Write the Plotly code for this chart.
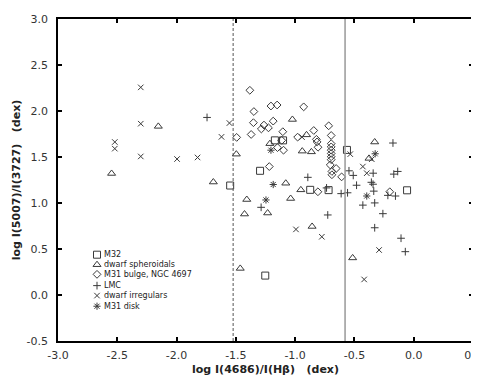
import plotly.graph_objects as go

# ---- data ----
m32_x = [-1.548, -1.171, -1.102, -1.296, -0.873, -0.718, -0.563, -0.056, -1.252]
m32_y = [1.190, 1.681, 1.681, 1.350, 1.143, 1.140, 1.577, 1.138, 0.211]

dsph_x = [-2.154, -2.548, -1.690, -1.496, -1.023, -0.904, -1.213, -0.940, -0.863, -1.079,
          -0.952, -1.408, -1.038, -1.427, -1.232, -0.857, -1.463, -0.515, -0.329, -0.377]
dsph_y = [1.833, 1.321, 1.228, 1.531, 1.908, 1.741, 1.645, 1.564, 1.556, 1.215,
          1.143, 1.038, 1.049, 0.880, 0.891, 0.745, 0.289, 0.403, 1.663, 1.485]

bulge_x = [-1.382, -1.204, -1.152, -0.928, -1.348, -1.352, -1.185, -1.263, -1.285, -1.225,
           -1.104, -1.371, -1.493, -0.979, -0.843, -0.717, -0.696, -1.113, -1.149, -1.098,
           -0.821, -0.815, -0.807, -0.696, -0.696, -0.696, -0.696, -0.696, -0.696, -0.704,
           -0.654, -0.690, -0.690, -0.608, -1.218, -0.808, -0.202]
bulge_y = [2.225, 2.054, 2.065, 2.045, 1.994, 1.873, 1.890, 1.847, 1.805, 1.817,
           1.775, 1.745, 1.713, 1.716, 1.788, 1.839, 1.734, 1.681, 1.602, 1.574,
           1.692, 1.664, 1.606, 1.645, 1.610, 1.574, 1.538, 1.503, 1.471, 1.414,
           1.375, 1.343, 1.307, 1.284, 1.396, 1.122, 1.122]

lmc_x = [-1.743, -1.287, -0.893, -0.735, -0.612, -0.558, -0.546, -0.510, -0.482, -0.342,
         -0.175, -0.168, -0.135, -0.357, -0.343, -0.337, -0.218, -0.154, -0.329, -0.429,
         -0.260, -0.725, -0.329, -0.107, -0.071]
lmc_y = [1.930, 0.953, 1.279, 1.164, 1.102, 1.111, 1.350, 1.300, 1.193, 1.324,
         1.652, 1.314, 1.343, 1.225, 1.204, 1.129, 1.083, 1.076, 1.001, 0.977,
         0.884, 0.870, 0.731, 0.617, 0.471]

dirr_x = [-2.302, -2.302, -2.521, -2.521, -2.302, -1.996, -1.823, -1.554, -1.621, -0.942,
          -0.535, -0.429, -0.396, -0.354, -0.993, -0.775, -0.292, -0.418]
dirr_y = [2.257, 1.862, 1.663, 1.591, 1.506, 1.478, 1.495, 1.869, 1.719, 1.716,
          1.531, 1.396, 1.324, 1.476, 0.713, 0.633, 0.489, 0.169]

disk_x = [-1.185, -1.246, -1.204, -0.325, -0.396]
disk_y = [1.201, 1.033, 1.574, 1.535, 1.076]

vline_dashed = -1.523
vline_solid = -0.579

x_ticks = [-3.0, -2.5, -2.0, -1.5, -1.0, -0.5, 0.0, 0.5]
y_ticks = [-0.5, 0.0, 0.5, 1.0, 1.5, 2.0, 2.5, 3.0]

series = [
    ("M32", m32_x, m32_y, "square-open", 7),
    ("dwarf spheroidals", dsph_x, dsph_y, "triangle-up-open", 7),
    ("M31 bulge, NGC 4697", bulge_x, bulge_y, "diamond-open", 6),
    ("LMC", lmc_x, lmc_y, "cross-thin-open", 5.5),
    ("dwarf irregulars", dirr_x, dirr_y, "x-thin-open", 5.5),
    ("M31 disk", disk_x, disk_y, "asterisk-open", 6),
]

MC = "#3a3a3a"
fig = go.Figure()
for name, xs, ys, sym, sz in series:
    fig.add_trace(go.Scatter(
        x=xs, y=ys, mode="markers", name=name, showlegend=False,
        marker=dict(symbol=sym, size=sz, color=MC, line=dict(color=MC, width=1)),
    ))

# manual compact legend (glyphs on an overlay axis, labels as annotations)
leg_rows = [0.268, 0.237, 0.207, 0.172, 0.141, 0.108]
for (name, xs, ys, sym, sz), ry in zip(series, leg_rows):
    fig.add_trace(go.Scatter(
        x=[0.094], y=[ry], xaxis="x2", yaxis="y2", mode="markers", showlegend=False,
        hoverinfo="skip",
        marker=dict(symbol=sym, size=sz, color=MC, line=dict(color=MC, width=1)),
    ))
    fig.add_annotation(x=0.106, y=ry, xref="paper", yref="paper", text=name,
                       showarrow=False, xanchor="left", yanchor="middle",
                       font=dict(family="DejaVu Sans", size=8, color="#222"))

fig.add_shape(type="line", x0=vline_dashed, x1=vline_dashed, y0=0, y1=1, xref="x", yref="paper",
              line=dict(color="#555", width=1, dash="3px,2px"))
fig.add_shape(type="line", x0=vline_solid, x1=vline_solid, y0=0, y1=1, xref="x", yref="paper",
              line=dict(color="#999", width=1.5))

axis_common = dict(showline=True, linecolor="black", linewidth=1.5, mirror="ticks",
                   ticks="inside", ticklen=4, tickwidth=1.5, tickcolor="black",
                   showgrid=False, zeroline=False,
                   tickfont=dict(family="DejaVu Sans", size=11, color="#333"))

fig.update_layout(
    width=479, height=376,
    margin=dict(l=50, r=9, t=5, b=43),
    paper_bgcolor="white", plot_bgcolor="white",
    xaxis=dict(range=[-3.0, 0.5], tickvals=x_ticks, ticktext=[f"{v:.1f}" for v in x_ticks],
               ticklabelstandoff=3,
               title=dict(text="<b>log I(4686)/I(Hβ)\u00a0\u00a0\u00a0(dex)</b>", standoff=4,
                          font=dict(family="DejaVu Sans", size=11, color="#222")),
               **axis_common),
    yaxis=dict(range=[-0.5, 3.0], tickvals=y_ticks, ticktext=[f"{v:.1f}" for v in y_ticks],
               ticklabelstandoff=6,
               title=dict(text="<b>log I(5007)/I(3727)\u00a0\u00a0\u00a0(dex)</b>", standoff=4,
                          font=dict(family="DejaVu Sans", size=11, color="#222")),
               **axis_common),
    xaxis2=dict(range=[0, 1], overlaying="x", visible=False, fixedrange=True),
    yaxis2=dict(range=[0, 1], overlaying="y", visible=False, fixedrange=True),
    showlegend=False,
)

fig.write_html("out.html")
